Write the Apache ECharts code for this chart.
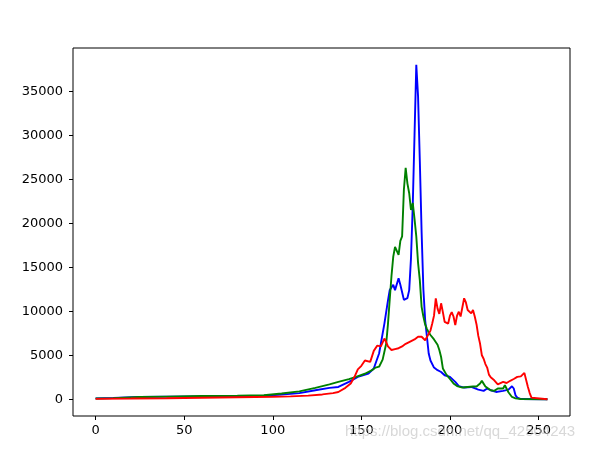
<!DOCTYPE html>
<html>
<head>
<meta charset="utf-8">
<script src="https://cdn.jsdelivr.net/npm/echarts@6/dist/echarts.min.js"></script>
<style>
html,body{margin:0;padding:0;background:#fff;}
#chart{width:598px;height:450px;}
</style>
</head>
<body>
<div id="chart"></div>
<script>
const xTicks = [0, 50, 100, 150, 200, 250];
const yTicks = [0, 5000, 10000, 15000, 20000, 25000, 30000, 35000];

const blueX = [0,10,25,40,60,80,95,105,115,124,132,137,143,148,154,157,160,163,165,166,168,169,171,172,174,175,176,177,178,179,180,181,182,183,184,185,186,187,188,189,191,193,195,197,200,203,205,208,212,216,219,221,223,226,230,233,235,236,237,238,240,255];
const blueY = [100,150,250,300,330,350,400,530,700,1025,1300,1400,1970,2540,2920,3500,5200,8600,11200,12400,13000,12400,13750,13000,11300,11200,11500,12400,16000,22000,30000,38000,34400,27000,19000,12500,9000,7100,5200,4400,3600,3300,3100,2730,2540,1970,1500,1330,1400,1100,950,1220,1025,830,950,1100,1480,1220,450,190,30,0];

const greenX = [0,10,25,40,60,80,95,105,115,124,132,137,143,147,152,156,158,160,162,164,165,166,167,168,169,170,171,172,173,174,175,176,177,178,179,180,181,182,183,184,185,186,187,188,189,191,193,194,195,196,198,200,202,204,207,210,213,215,217,218,219,220,223,225,227,230,231,232,233,235,237,240,255];
const greenY = [80,130,250,300,380,400,450,650,900,1290,1700,1970,2280,2540,2900,3300,3600,3700,4500,6300,8500,11300,14000,16200,17300,17200,16400,18000,18500,23800,26300,24500,23400,21500,22300,20500,18500,15500,13500,10500,9400,8500,8000,7600,7300,6800,6200,5600,4800,3500,2800,2300,1800,1500,1330,1400,1450,1450,1790,2090,1900,1450,1025,950,1220,1220,1590,1200,800,260,100,30,0];

const redX = [0,20,40,60,80,100,110,120,128,134,137,141,144,146,148,150,152,155,157,159,161,163,164,165,167,169,171,173,175,177,178,180,182,184,186,187,189,190,191,192,193,194,195,196,197,199,200,201,202,203,204,205,206,207,208,209,210,211,212,213,214,215,216,217,218,219,220,221,222,223,225,227,228,230,232,234,236,238,240,241,242,243,244,245,246,247,255];
const redY = [50,80,120,180,230,280,330,420,550,700,830,1300,1790,2500,3400,3800,4400,4250,5500,6100,6000,6900,6500,6000,5600,5700,5800,6000,6300,6500,6300,6800,7100,7100,6700,6900,7800,8600,9500,11470,10300,9700,10900,9900,8800,8600,9500,9900,9400,8430,9500,9940,9400,9500,11470,11000,10140,10000,9760,10140,9400,8500,7200,6300,5000,4600,4000,3600,2800,2500,2160,1700,1590,1970,1850,2100,2300,2550,2600,2800,3000,2200,1400,700,190,0,0];

function pairs(xs, ys){ return xs.map((x,i)=>[x, ys[i]]); }

const chart = echarts.init(document.getElementById('chart'), null, {renderer:'canvas'});
const labelFont = {color:'#000', fontSize:13, fontFamily:'DejaVu Sans'};
const mkSeries = (name, color, data) => ({
  name, type:'line', data, showSymbol:false, symbol:'none', animation:false,
  lineStyle:{color, width:1.9}, itemStyle:{color}, z: 2
});
chart.setOption({
  animation:false,
  backgroundColor:'#fff',
  grid:{left:73, right:28, top:48, bottom:34, show:true, borderColor:'#000', borderWidth:1, backgroundColor:'transparent'},
  xAxis:{
    type:'value', min:-12.75, max:267.75,
    axisLine:{show:false, onZero:false},
    splitLine:{show:false},
    axisTick:{show:true, customValues:xTicks, length:4, lineStyle:{color:'#000'}},
    axisLabel:Object.assign({customValues:xTicks, margin:8, formatter:(v)=>String(v)}, labelFont)
  },
  yAxis:{
    type:'value', min:-1900, max:39900,
    axisLine:{show:false, onZero:false},
    splitLine:{show:false},
    axisTick:{show:true, customValues:yTicks, length:4, lineStyle:{color:'#000'}},
    axisLabel:Object.assign({customValues:yTicks, margin:10, formatter:(v)=>String(v)}, labelFont)
  },
  graphic:[{
    type:'text', left:345, top:424,
    style:{text:'https://blog.csdn.net/qq_42504243', fill:'rgba(190,190,190,0.6)', fontSize:15, fontFamily:'Liberation Sans'},
    z:100
  }],
  series:[
    mkSeries('b', '#0000ff', pairs(blueX, blueY)),
    mkSeries('g', '#008000', pairs(greenX, greenY)),
    mkSeries('r', '#ff0000', pairs(redX, redY))
  ]
});
</script>
</body>
</html>
